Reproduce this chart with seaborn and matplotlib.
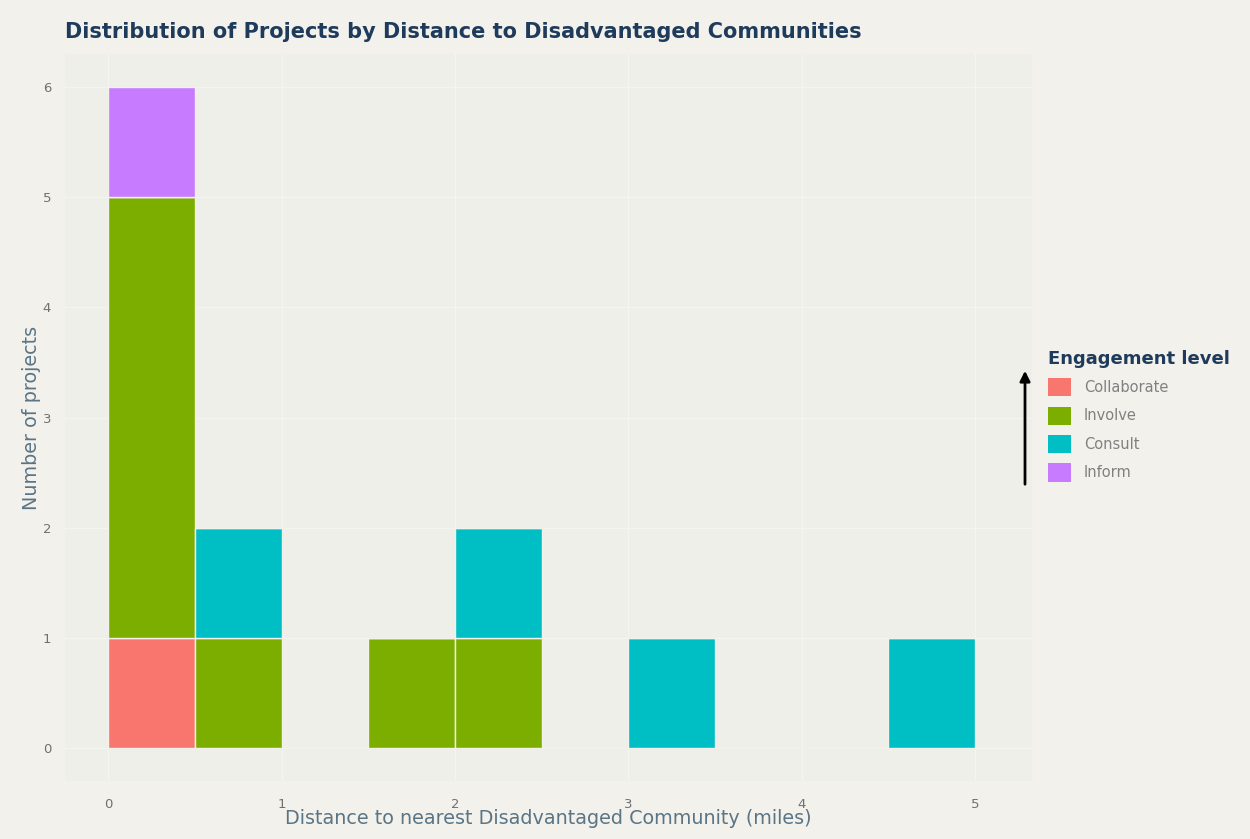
import matplotlib
matplotlib.use("Agg")
import matplotlib.pyplot as plt
import seaborn as sns
import pandas as pd
from matplotlib.patches import Patch

# Data: distance (miles) to nearest disadvantaged community per project, by engagement level
collaborate = [0.25]
involve = [0.10, 0.20, 0.30, 0.40, 0.75, 1.75, 2.25]
consult = [0.75, 2.25, 3.25, 4.75]
inform = [0.25]

levels = ["Collaborate", "Involve", "Consult", "Inform"]
colors = ["#F8766D", "#7CAE00", "#00BFC4", "#C77CFF"]

df = pd.DataFrame({
    "distance": collaborate + involve + consult + inform,
    "level": (["Collaborate"] * len(collaborate) + ["Involve"] * len(involve)
              + ["Consult"] * len(consult) + ["Inform"] * len(inform)),
})

sns.set_theme(style="whitegrid")
plt.rcParams["font.family"] = ["DejaVu Sans"]

fig = plt.figure(figsize=(12.5, 8.39), dpi=100, facecolor="#f3f1eb")
ax = fig.add_axes([0.052, 0.069, 0.7736, 0.8666])
ax.set_facecolor("#efefea")

palette = dict(zip(levels, colors))
sns.histplot(data=df, x="distance", hue="level", hue_order=levels[::-1],
             multiple="stack", binwidth=0.5, binrange=(0, 5),
             palette=palette, alpha=1, edgecolor="#f3f1eb", linewidth=1,
             legend=False, ax=ax)

ax.set_xlim(-0.25, 5.33)
ax.set_ylim(-0.3, 6.3)
ax.set_xticks([0, 1, 2, 3, 4, 5])
ax.set_yticks([0, 1, 2, 3, 4, 5, 6])
ax.grid(True, color="#ffffff", linewidth=0.8, alpha=0.35)
for s in ax.spines.values():
    s.set_visible(False)
ax.tick_params(axis="x", length=0, labelsize=9.5, labelcolor="#707070", pad=12)
ax.tick_params(axis="y", length=0, labelsize=9.5, labelcolor="#707070", pad=10)

ax.set_xlabel("Distance to nearest Disadvantaged Community (miles)", fontsize=13.8,
              color="#5a7586", labelpad=-1)
ax.set_ylabel("Number of projects", fontsize=13.8, color="#5a7586", labelpad=1)

fig.text(0.052, 0.962, "Distribution of Projects by Distance to Disadvantaged Communities",
         fontsize=15, fontweight="bold", color="#1f3b5c", ha="left", va="center")

handles = [Patch(facecolor=c, edgecolor="none") for c in colors]
leg = fig.legend(handles, levels, title="Engagement level", loc="upper left",
                 bbox_to_anchor=(0.834, 0.59), frameon=False, fontsize=10.5,
                 title_fontsize=13, handlelength=1.55, handleheight=1.55,
                 labelspacing=0.7, handletextpad=0.9, borderaxespad=0)
leg.get_title().set_fontweight("bold")
leg.get_title().set_color("#1f3b5c")
leg._legend_box.align = "left"
for t in leg.get_texts():
    t.set_color("#808080")

fig.patches.append(matplotlib.patches.FancyArrowPatch(
    (1025 / 1250, 1 - 487 / 839), (1025 / 1250, 1 - 368 / 839),
    transform=fig.transFigure, arrowstyle="-|>", mutation_scale=15,
    color="black", linewidth=2))

fig.savefig("out.png", dpi=100, facecolor=fig.get_facecolor())
